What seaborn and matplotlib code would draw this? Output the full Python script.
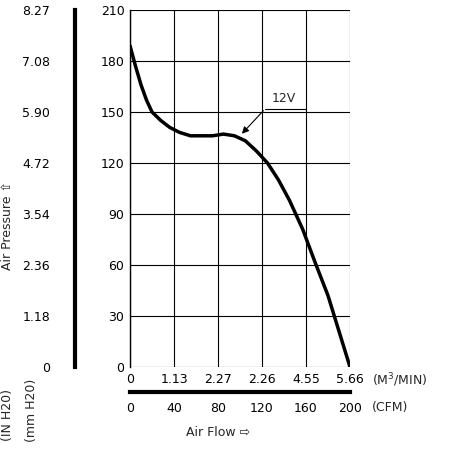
import matplotlib
matplotlib.use("Agg")
import matplotlib.pyplot as plt
import seaborn as sns
import pandas as pd

cfm = [0, 5, 10, 15, 20, 28, 36, 45, 55, 65, 75, 85, 95, 105, 115, 125, 135, 145, 157, 168, 180, 190, 200]
pressure = [189, 177, 166, 157, 150, 145, 141, 138, 136, 136, 136, 137, 136, 133, 127, 120, 110, 98, 81, 62, 42, 21, 0]
cfm_ticks = [0, 40, 80, 120, 160, 200]
m3_labels = ["0", "1.13", "2.27", "2.26", "4.55", "5.66"]
mm_ticks = [0, 30, 60, 90, 120, 150, 180, 210]
in_labels = ["0", "1.18", "2.36", "3.54", "4.72", "5.90", "7.08", "8.27"]

sns.set_style("white")
plt.rcParams['font.family'] = ['DejaVu Sans']
W = 450
fig = plt.figure(figsize=(4.5, 4.5), dpi=100)
L, R, T, B = 130, 350, 10, 367
ax = fig.add_axes([L/W, 1-B/W, (R-L)/W, (B-T)/W])
df = pd.DataFrame({"cfm": cfm, "p": pressure})
sns.lineplot(data=df, x="cfm", y="p", ax=ax, color="black", lw=2.5)
ax.set_xlim(0, 200); ax.set_ylim(0, 210)
ax.set_xticks(cfm_ticks); ax.set_xticklabels(m3_labels, fontsize=9)
ax.set_yticks(mm_ticks); ax.set_yticklabels([str(v) for v in mm_ticks], fontsize=9)
ax.tick_params(length=0, pad=4, colors="black")
ax.grid(True, color="black", lw=0.8)
for s in ax.spines.values():
    s.set_visible(False)
ax.spines['left'].set_visible(True); ax.spines['left'].set_linewidth(1); ax.spines['left'].set_color("black")
ax.set_xlabel(""); ax.set_ylabel("")

axl = fig.add_axes([75/W, 1-B/W, 0.0001, (B-T)/W])
axl.set_ylim(0, 210); axl.set_yticks(mm_ticks); axl.set_yticklabels(in_labels, fontsize=9)
axl.set_xticks([])
for k, s in axl.spines.items():
    s.set_visible(k == 'left')
axl.spines['left'].set_linewidth(3); axl.spines['left'].set_color("black")
axl.tick_params(axis='y', length=0, pad=18, colors="black")

axb = fig.add_axes([L/W, 1-392/W, (R-L)/W, 0.0001])
axb.set_xlim(0, 200); axb.set_xticks(cfm_ticks)
axb.set_xticklabels([str(v) for v in cfm_ticks], fontsize=9)
axb.set_yticks([])
for k, s in axb.spines.items():
    s.set_visible(k == 'bottom')
axb.spines['bottom'].set_linewidth(3); axb.spines['bottom'].set_color("black")
axb.tick_params(axis='x', length=4, width=1.5, pad=3, direction='out', colors="black")

ax.annotate("", xy=(100, 136), xytext=(123, 152),
            arrowprops=dict(arrowstyle="-|>", color="black", lw=0.8))
ax.plot([123, 160], [152, 152], color="black", lw=0.8)
ax.text(140, 154, "12V", fontsize=9, ha="center", va="bottom")

fig.text(372/W, 1-380/W, "(M$^3$/MIN)", fontsize=9, va="center")
fig.text(372/W, 1-407/W, "(CFM)", fontsize=9, va="center")
fig.text(186/W, 1-433/W, "Air Flow ⇨", fontsize=9, va="center")
fig.text(8/W, 1-225/W, "Air Pressure ⇧", fontsize=9, rotation=90, ha="center", va="center")
fig.text(8/W, 1-415/W, "(IN H20)", fontsize=9, rotation=90, ha="center", va="center")
fig.text(32/W, 1-410/W, "(mm H20)", fontsize=9, rotation=90, ha="center", va="center")
fig.savefig("out.png", dpi=100)
